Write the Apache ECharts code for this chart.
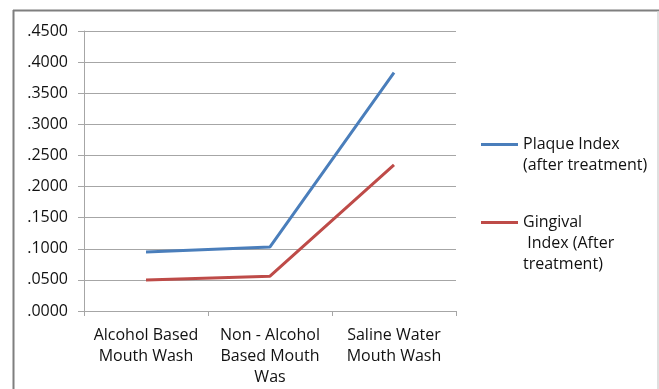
<!DOCTYPE html>
<html>
<head>
<meta charset="utf-8">
<script src="https://cdn.jsdelivr.net/npm/echarts@6/dist/echarts.min.js"></script>
<style>
  html, body { margin: 0; padding: 0; background: #fff; }
  #chart { width: 659px; height: 389px; }
</style>
</head>
<body>
<div id="chart"></div>
<script>
// Mouth wash groups on the x axis
const categories = ['Alcohol Based\nMouth Wash', 'Non - Alcohol\nBased Mouth\nWas', 'Saline Water\nMouth Wash'];
// Mean index scores after treatment
const plaqueIndex = [0.095, 0.103, 0.383];
const gingivalIndex = [0.050, 0.056, 0.235];
const plaqueName = 'Plaque Index\n(after treatment)';
const gingivalName = 'Gingival\n Index (After\ntreatment)';

const FONT = '"Open Sans", "Liberation Sans", sans-serif';
const TEXT_COLOR = '#111';
const GRID_COLOR = '#a6a6a6';
const LINE_H = 21;

const chart = echarts.init(document.getElementById('chart'), null, { renderer: 'canvas' });

// Legend swatch sits beside the first text line: the icon box spans the whole
// text block and the 3px bar is drawn in its top row.
function legendFor(name, lines, firstLineY) {
  const h = lines * LINE_H;
  return {
    data: [name],
    left: 481, top: firstLineY - LINE_H / 2, padding: 0,
    orient: 'vertical', itemWidth: 37, itemHeight: h, itemGap: 3,
    icon: 'path://M0,0 M0,9 L37,9 L37,12 L0,12 Z M37,' + h,
    textStyle: { fontFamily: FONT, fontSize: 16, color: TEXT_COLOR, lineHeight: LINE_H }
  };
}

chart.setOption({
  animation: false,
  backgroundColor: '#fff',
  grid: { left: 84, top: 31, width: 372, height: 280, containLabel: false },
  legend: [
    legendFor(plaqueName, 2, 144.5),
    legendFor(gingivalName, 3, 222.5)
  ],
  xAxis: {
    type: 'category',
    data: categories,
    boundaryGap: true,
    axisLine: { lineStyle: { color: GRID_COLOR, width: 1 } },
    axisTick: { show: true, length: 5, alignWithLabel: false, lineStyle: { color: GRID_COLOR } },
    axisLabel: {
      interval: 0, margin: 14,
      fontFamily: FONT, fontSize: 16, color: TEXT_COLOR, lineHeight: LINE_H
    }
  },
  yAxis: {
    type: 'value',
    min: 0, max: 0.45, interval: 0.05,
    axisLine: { show: true, lineStyle: { color: GRID_COLOR, width: 1 } },
    axisTick: { show: true, length: 6, lineStyle: { color: GRID_COLOR } },
    splitLine: { lineStyle: { color: GRID_COLOR, width: 1 } },
    axisLabel: {
      margin: 16,
      fontFamily: FONT, fontSize: 16, color: TEXT_COLOR,
      formatter: (v) => v.toFixed(4).replace(/^0/, '')
    }
  },
  series: [
    {
      name: plaqueName, type: 'line', data: plaqueIndex,
      symbol: 'none', color: '#4a7ebb',
      lineStyle: { width: 3, color: '#4a7ebb' }
    },
    {
      name: gingivalName, type: 'line', data: gingivalIndex,
      symbol: 'none', color: '#be4b48',
      lineStyle: { width: 3, color: '#be4b48' }
    }
  ],
  graphic: [
    { type: 'line', silent: true, shape: { x1: 13, y1: 10.5, x2: 659, y2: 10.5 }, style: { stroke: '#7f7f7f', lineWidth: 2 } },
    { type: 'line', silent: true, shape: { x1: 13.5, y1: 10, x2: 13.5, y2: 389 }, style: { stroke: '#7f7f7f', lineWidth: 2 } },
    { type: 'line', silent: true, shape: { x1: 658, y1: 11, x2: 658, y2: 389 }, style: { stroke: '#d4d4d4', lineWidth: 1.5 } }
  ]
});
</script>
</body>
</html>
